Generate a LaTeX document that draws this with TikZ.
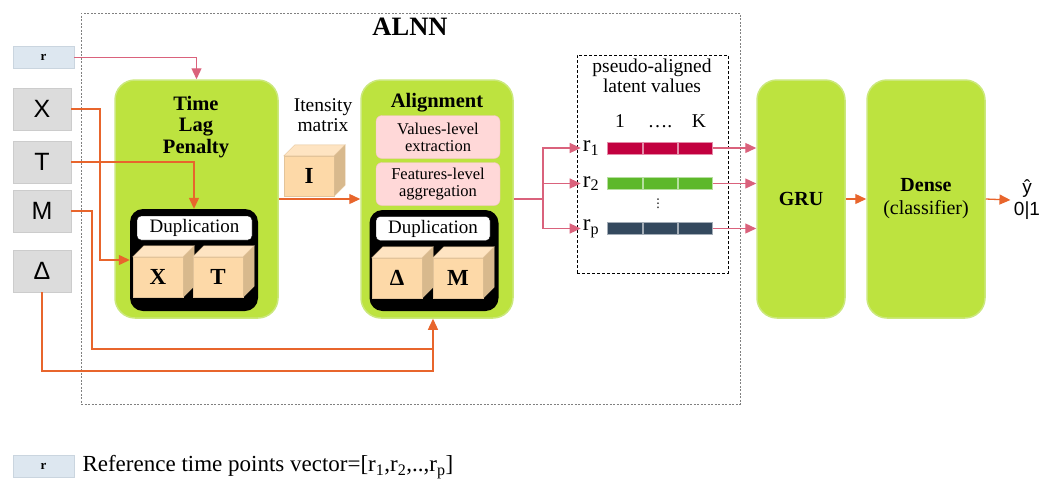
\documentclass[tikz,border=0pt]{standalone}
\usepackage{fontspec}
\setmainfont{Liberation Serif}
\setsansfont{Liberation Sans}
\newfontfamily\dotsfont{DejaVu Sans}
\usepackage{tikz}
\usepackage{color}
\usetikzlibrary{arrows.meta,positioning}

\definecolor{boxgreen}{HTML}{BDE33F}
\definecolor{boxgreenedge}{HTML}{CBE87C}
\definecolor{ingray}{HTML}{DCDCDC}
\definecolor{inedge}{HTML}{CCCCCC}
\definecolor{refblue}{HTML}{DDE7F0}
\definecolor{refedge}{HTML}{CAD5DF}
\definecolor{wireorange}{HTML}{E8652C}
\definecolor{wirepink}{HTML}{DA627C}
\definecolor{pinkfill}{HTML}{FFD8D8}
\definecolor{pinkedge}{HTML}{F3C3C3}
\definecolor{cubefill}{HTML}{FDD9A8}
\definecolor{cubetopfill}{HTML}{FEE4C2}
\definecolor{cubesidefill}{HTML}{D8B98D}
\definecolor{cubeedge}{HTML}{E3C49A}
\definecolor{barred}{HTML}{C2003F}
\definecolor{bargreen}{HTML}{5DB82A}
\definecolor{bardark}{HTML}{34495E}

% cube: name, x, y (front face centre), label
\newcommand{\drawcube}[4]{%
  \node[cubefront] (#1) at (#2,#3) {#4};
  \filldraw[cubetop] (#1.north west) -- ([shift={(11,-11)}]#1.north west)
    -- ([shift={(11,-11)}]#1.north east) -- (#1.north east) -- cycle;
  \filldraw[cubeside] (#1.north east) -- ([shift={(11,-11)}]#1.north east)
    -- ([shift={(11,-11)}]#1.south east) -- (#1.south east) -- cycle;
}

\begin{document}
\begin{tikzpicture}[%
      x=1pt, y=-1pt,
      inbox/.style={draw=inedge, fill=ingray, minimum width=58pt, minimum height=42pt, inner sep=0pt, font=\sffamily\fontsize{25}{25}\selectfont},
      refbox/.style={draw=refedge, fill=refblue, minimum width=61pt, minimum height=22pt, inner sep=0pt, font=\bfseries\fontsize{13}{13}\selectfont},
      greenbox/.style={draw=boxgreenedge, fill=boxgreen, line width=1.5pt, rounded corners=20pt, minimum height=238pt, inner sep=0pt, font=\fontsize{20}{23}\selectfont},
      blackbox/.style={fill=black, rounded corners=13pt, inner sep=0pt},
      dupbox/.style={draw=black, fill=white, rounded corners=4pt, minimum width=115pt, minimum height=24pt, inner sep=0pt, font=\fontsize{19}{19}\selectfont},
      pinkbox/.style={draw=pinkedge, fill=pinkfill, rounded corners=6pt, minimum width=124pt, minimum height=43pt, inner sep=0pt, align=center, font=\fontsize{16.5}{17}\selectfont},
      cubefront/.style={draw=cubeedge, fill=cubefill, minimum width=50pt, minimum height=40pt, inner sep=0pt, font=\bfseries\fontsize{23}{23}\selectfont},
      cubetop/.style={draw=cubeedge, fill=cubetopfill},
      cubeside/.style={draw=cubeedge, fill=cubesidefill},
      bigbold/.style={font=\bfseries\fontsize{20.5}{21.5}\selectfont},
      midtext/.style={font=\fontsize{19.5}{20}\selectfont},
      rlab/.style={inner sep=2pt, font=\fontsize{23}{23}\selectfont},
      cell/.style={draw=#1!45!white, fill=#1, minimum width=34.7pt, minimum height=12pt, inner sep=0pt},
      orline/.style={draw=wireorange, line width=1.3pt},
      orarr/.style={orline, -{Triangle[length=11pt,width=10pt]}},
      pinkline/.style={draw=wirepink, line width=1.3pt},
      pinkarr/.style={pinkline, -{Triangle[length=11pt,width=10pt]}},
      ]
      \useasboundingbox (0,0) rectangle (1052,488);

      % outer ALNN frame
      \node[draw=gray, dash pattern=on 2pt off 1.5pt, minimum width=659pt, minimum height=391pt, inner sep=0pt] (alnnbox) at (410.5,208.5) {};
      \node[font=\bfseries\fontsize{26.5}{26.5}\selectfont] (alnntitle) at (410,27) {ALNN};

      % inputs
      \node[refbox] (rin) at (43.5,57.5) {r};
      \node[inbox] (xin) at (42,109) {X};
      \node[inbox] (tin) at (42,162) {T};
      \node[inbox] (min) at (42,211) {M};
      \node[inbox] (din) at (42,271) {Δ};

      % time lag penalty
      \node[greenbox, minimum width=163pt] (tlp) at (196.5,199) {};
      \node[bigbold, align=center] (tlptitle) at (196,127) {Time\\Lag\\Penalty};
      \node[blackbox, minimum width=128pt, minimum height=102pt] (tlpdup) at (194,260) {};
      \node[dupbox] (tlpduplbl) at (194.5,228) {Duplication};
      \drawcube{cubex}{158}{277}{X}
      \drawcube{cubet}{218}{277}{T}

      % intensity matrix
      \node[midtext, align=center] (imlabel) at (323,115) {Itensity\\matrix};
      \drawcube{cubei}{309}{176}{I}

      % alignment
      \node[greenbox, minimum width=152pt] (algn) at (437,199) {};
      \node[bigbold] (algntitle) at (437,103) {Alignment};
      \node[pinkbox] (valext) at (438,137) {Values-level\\extraction};
      \node[pinkbox] (featagg) at (438,184) {Features-level\\aggregation};
      \node[blackbox, minimum width=129pt, minimum height=101pt] (algndup) at (434,260.5) {};
      \node[dupbox, minimum width=114pt] (algnduplbl) at (433,228.5) {Duplication};
      \drawcube{cubed}{397}{278}{Δ}
      \drawcube{cubem}{458}{278}{M}

      % input wires
      \coordinate (xbend) at (100,260);
      \coordinate (mbend) at (92,349);
      \coordinate (mjoin) at (433,349);
      \coordinate (djoin) at (433,371);
      \draw[pinkarr] (rin.east) -| (tlp.north);
      \draw[orarr] (xin.east) -| (xbend) -- (xbend -| tlpdup.west);
      \draw[orarr] (tin.east) -| (tlpdup.north);
      \draw[orline] (min.east) -| (mbend) -- (mjoin);
      \draw[orline] (din.south) |- (djoin) -- (mjoin);
      \draw[orarr] (mjoin) -- (mjoin |- algn.south);
      \draw[orarr] (tlp.east) -- (algn.west);

      % pseudo-aligned latent values
      \node[draw, densely dashed, minimum width=151pt, minimum height=218pt, inner sep=0pt] (pseudo) at (652.5,164) {};
      \node[midtext, align=center] (pseudolbl) at (652,76) {pseudo-aligned\\latent values};
      \node[midtext, anchor=base] (colone) at (620,127) {1};
      \node[midtext, anchor=base] (coldots) at (660,127) {….};
      \node[midtext, anchor=base] (colk) at (699,127) {K};
      \node[font=\dotsfont\fontsize{12}{12}\selectfont] (vdots) at (658,204) {⋮};

      % GRU and dense
      \node[greenbox, minimum width=88pt] (gru) at (801,199) {\textbf{GRU}};
      \node[greenbox, minimum width=118pt, align=center] (dense) at (926,199) {\textbf{Dense}\\(classifier)};
      \node[align=center, font=\sffamily\fontsize{19}{22}\selectfont] (yout) at (1027,200) {ŷ\\0|1};

      \coordinate (split) at (543,199);
      \draw[pinkline] (algn.east) -- (split);
      \foreach \n/\yy/\c/\s in {a/148/barred/1, b/183.5/bargreen/2, p/228.5/bardark/p}{
        \node[rlab] (lab\n) at (591,\yy) {r\textsubscript{\s}};
        \node[cell=\c] (\n0) at (625,\yy) {};
        \node[cell=\c, right=0pt of \n0] (\n1) {};
        \node[cell=\c, right=0pt of \n1] (\n2) {};
        \draw[pinkarr] (split) |- (lab\n.west);
        \draw[pinkarr] (\n2.east) -- (\n2.east -| gru.west);
      }
      \draw[orarr] (gru.east) -- (dense.west);
      \draw[orarr] (dense.east) -- (yout.west);

      % legend
      \node[refbox] (rleg) at (43.5,466) {r};
      \node[anchor=west, font=\fontsize{23}{23}\selectfont] (legtxt) at (79,467) {Reference time points vector=[r\textsubscript{1},r\textsubscript{2},..,r\textsubscript{p}]};
\end{tikzpicture}
\end{document}
